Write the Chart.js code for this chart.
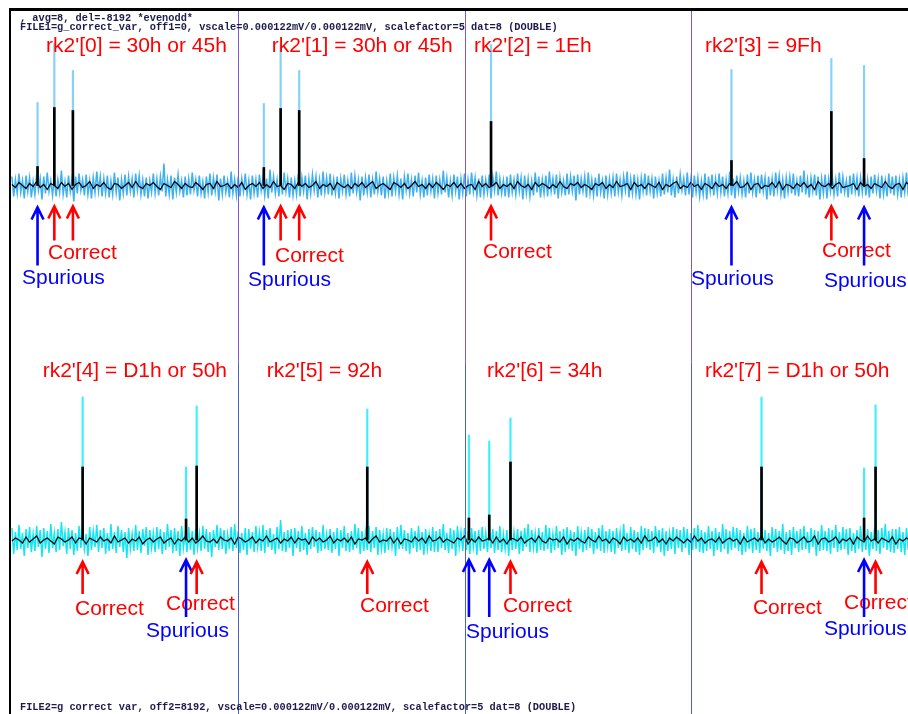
<!DOCTYPE html>
<html><head><meta charset="utf-8">
<script src="https://cdn.jsdelivr.net/npm/chart.js@4"></script>
<style>html,body{margin:0;padding:0;background:#fff;overflow:hidden}canvas{display:block}</style>
</head><body>
<canvas id="c" width="908" height="714"></canvas>
<script>
// ---- key-guess axis: 4 bytes x 256 guesses per row ----
const segmentBounds = [256, 512, 768];
const titlesTop = ["rk2'[0] = 30h or 45h", "rk2'[1] = 30h or 45h", "rk2'[2] = 1Eh", "rk2'[3] = 9Fh"];
const titlesBot = ["rk2'[4] = D1h or 50h", "rk2'[5] = 92h", "rk2'[6] = 34h", "rk2'[7] = D1h or 50h"];
const headerLines = [", avg=8, del=-8192 *evenodd*",
  "FILE1=g_correct_var, off1=0, vscale=0.000122mV/0.000122mV, scalefactor=5 dat=8 (DOUBLE)"];
const footerLine = "FILE2=g correct var, off2=8192, vscale=0.000122mV/0.000122mV, scalefactor=5 dat=8 (DOUBLE)";

// ---- peaks (key guess index, height of light trace, height of black trace) ----
const peakTopX     = [29, 48, 69, 285, 304, 325, 542, 814, 927, 964];
const peakTopCyan  = [83, 142, 115, 82, 141, 115, 141, 116, 127, 120];
const peakTopBlack = [19, 78, 75, 18, 77, 75, 64, 25, 74, 27];
const peakTopKind  = ['S','C','C','S','C','C','C','S','C','S'];
const peakBotX     = [80, 197, 209, 402, 517, 540, 564, 848, 964, 977];
const peakBotCyan  = [143, 73, 134, 131, 105, 99, 122, 143, 72, 135];
const peakBotBlack = [73, 21, 74, 73, 22, 25, 78, 73, 22, 73];
const peakBotKind  = ['C','S','C','C','S','S','C','C','S','C'];

// ---- noise traces (light trace: 1 sample / 2 guesses, black: 1 sample / 4 guesses) ----
const noiseTop = [
9,-11,6,-8,12,-7,5,-13,10,-6,8,-12,4,-9,11,-5,7,-14,9,-8,
13,-6,5,-10,8,-11,6,-7,15,-9,4,-12,10,-6,7,-16,9,-8,12,-5,
6,-10,11,-9,5,-13,8,-7,14,-6,9,-11,7,-8,10,-12,5,-9,13,-7,
8,-15,6,-8,11,-10,9,-6,7,-12,12,-5,10,-9,6,-11,8,-13,5,-7,
12,-8,7,-10,9,-6,22,-11,6,-9,10,-14,8,-7,11,-6,5,-12,9,-10,
7,-9,13,-5,6,-11,10,-8,4,-13,9,-7,12,-10,8,-6,11,-15,7,-9,
10,-7,5,-12,14,-8,6,-10,9,-11,7,-6,12,-9,5,-14,10,-8,6,-12,
11,-5,8,-10,7,-13,16,-7,9,-8,6,-11,10,-9,13,-6,7,-12,8,-10,
5,-9,12,-11,8,-6,10,-14,7,-8,11,-5,9,-12,6,-10,14,-7,8,-9,
12,-10,6,-8,9,-13,7,-6,11,-9,5,-11,13,-8,10,-7,6,-15,9,-10,
8,-7,11,-12,6,-9,14,-6,7,-10,9,-13,5,-8,12,-11,8,-6,10,-9,
7,-14,9,-5,12,-8,6,-11,10,-7,13,-9,5,-12,8,-10,11,-6,7,-13,
10,-8,6,-9,15,-7,8,-12,5,-10,11,-6,9,-14,7,-8,12,-11,6,-9,
13,-6,8,-10,7,-12,10,-9,6,-7,11,-13,9,-5,14,-10,7,-8,5,-11,
9,-12,11,-7,6,-9,12,-6,8,-14,10,-8,7,-11,5,-10,13,-7,9,-12,
6,-8,10,-11,14,-6,7,-9,11,-13,8,-7,5,-10,12,-9,9,-6,10,-15,
11,-9,7,-6,9,-12,13,-8,6,-10,8,-11,12,-7,5,-13,10,-9,7,-8,
8,-11,12,-7,6,-10,9,-5,14,-12,7,-8,11,-9,6,-14,8,-6,12,-10,
10,-6,7,-13,9,-8,5,-11,12,-9,8,-7,16,-10,6,-12,9,-8,11,-5,
7,-10,13,-9,6,-12,10,-7,8,-11,5,-9,12,-14,9,-6,11,-10,7,-8,
12,-7,9,-11,6,-8,14,-10,7,-13,10,-6,8,-9,5,-12,11,-8,13,-7,
6,-12,10,-8,11,-6,8,-14,9,-10,7,-11,13,-5,10,-9,6,-13,8,-7,
9,-8,12,-10,5,-11,10,-7,15,-9,6,-12,8,-6,11,-10,9,-14,7,-8,
11,-13,7,-6,10,-9,6,-11,13,-8,9,-7,5,-12,10,-9,12,-6,8,-11,
8,-7,14,-10,6,-12,9,-8,11,-6,7,-13,10,-9,5,-11,12,-8,9,-10,
10,-9,6,-12,8,-7,13,-11,7,-6,11,-10,9,-14,6,-8,12,-7,10,-9];
const noiseBot = [
12,-14,8,-10,15,-9,7,-16,11,-8,13,-12,6,-11,14,-7,10,-17,12,-9,
9,-13,16,-8,7,-12,11,-10,18,-6,8,-14,12,-9,10,-15,7,-11,14,-8,
11,-9,6,-16,13,-10,9,-7,15,-12,10,-8,12,-14,7,-11,16,-9,8,-13,
14,-7,10,-12,8,-18,12,-9,6,-11,15,-10,9,-13,11,-6,13,-15,10,-8,
7,-12,13,-9,11,-14,8,-10,16,-7,10,-13,12,-11,9,-16,14,-8,6,-12,
13,-10,9,-15,12,-8,7,-11,14,-9,11,-12,8,-17,10,-7,15,-10,12,-9,
10,-14,6,-9,13,-11,16,-8,9,-13,7,-10,12,-15,11,-9,8,-12,14,-7,
8,-11,15,-13,10,-7,12,-10,6,-14,13,-9,20,-11,8,-12,10,-8,11,-16,
12,-8,9,-12,14,-10,7,-15,11,-9,13,-7,10,-13,8,-11,15,-9,6,-10,
11,-13,8,-9,12,-16,10,-8,14,-11,7,-12,9,-10,16,-8,12,-14,9,-11,
7,-10,14,-12,9,-8,13,-15,10,-9,6,-13,12,-10,11,-7,8,-16,13,-9,
15,-9,10,-11,7,-14,12,-8,9,-12,14,-10,8,-15,11,-9,6,-11,13,-12,
9,-12,11,-8,16,-10,7,-13,12,-9,10,-16,14,-7,8,-11,12,-10,9,-14,
12,-7,9,-15,10,-11,13,-9,7,-12,15,-8,11,-13,9,-10,14,-12,6,-9,
10,-16,13,-10,8,-9,11,-14,9,-11,12,-7,16,-12,10,-8,7,-13,12,-10,
8,-11,15,-9,12,-13,6,-10,14,-8,9,-15,11,-12,13,-9,10,-11,8,-16,
14,-9,7,-12,10,-10,13,-8,11,-14,8,-9,12,-11,15,-13,9,-7,11,-12,
9,-14,12,-8,8,-11,16,-10,7,-13,13,-9,10,-12,8,-15,14,-10,12,-8,
11,-10,9,-13,14,-7,10,-12,12,-16,9,-11,7,-9,13,-14,11,-8,10,-12,
13,-8,11,-15,7,-10,12,-9,15,-12,10,-13,8,-11,14,-9,9,-16,12,-10,
8,-12,16,-9,11,-14,9,-10,13,-8,12,-11,10,-15,7,-12,14,-9,11,-13,
12,-10,8,-13,15,-9,10,-11,7,-16,13,-8,11,-12,9,-10,16,-14,8,-11,
10,-15,13,-8,9,-12,11,-10,14,-9,8,-13,12,-7,10,-16,9,-11,15,-10,
9,-11,12,-14,10,-8,15,-12,8,-10,13,-9,11,-15,12,-11,7,-13,10,-9,
14,-12,9,-10,11,-16,8,-9,13,-11,10,-14,12,-8,16,-10,9,-12,11,-13,
11,-9,13,-12,8,-15,12,-10,9,-11,14,-13,10,-8,12,-16,11,-9,13,-10];
const traceTop = [
1,-2,3,0,-3,2,-1,4,-2,1,-4,2,0,-3,3,-1,2,-4,1,3,
-2,0,4,-3,1,-1,3,-2,-4,2,1,-3,0,3,-2,4,-1,-3,2,0,
3,-1,-4,2,0,-2,4,1,-3,2,-1,-2,3,0,-4,1,2,-3,4,-1,
0,2,-3,1,-2,3,-4,0,2,-1,3,-3,1,-2,4,-1,0,-4,2,1,
-3,3,-1,2,-2,0,4,-3,1,-1,2,-4,3,0,-2,1,-3,2,-1,3,
-2,1,4,-3,0,2,-1,-4,3,1,-2,2,-3,0,4,-1,1,-3,2,-2,
3,0,-4,1,-1,3,-2,2,-3,0,1,-4,4,-1,2,-2,0,3,-3,1,
-1,2,-3,4,0,-2,1,-4,3,-1,2,0,-3,1,-2,4,-1,-3,2,0,
3,-2,1,-1,-4,2,0,3,-3,1,-2,4,-1,0,2,-4,3,-1,1,-3,
2,0,-2,3,-4,1,-1,2,4,-3,0,-2,3,-1,1,-4,2,0,-3,3,
-1,1,-3,2,0,4,-2,-1,3,-4,1,2,-3,0,-1,3,-2,4,-4,1,
0,-3,2,-1,3,-2,1,-4,4,0,-1,2,-3,1,3,-2,-1,0,2,-4,
3,-1,1,-3,2,0,-2,4,-1,-3,1,2,-4,3,0,-2,1,-1,3,-3];
const traceBot = [
-1,2,0,-3,3,-2,1,4,-3,0,2,-1,-4,3,1,-2,0,3,-3,2,
1,-4,2,0,-2,3,-1,1,-3,4,-2,0,2,-3,1,-1,3,-4,0,2,
-2,1,3,-3,0,2,-4,1,-1,3,-2,2,-3,0,4,-1,-2,1,-3,3,
0,-1,2,-4,3,1,-2,0,3,-3,1,-1,4,-2,0,2,-3,1,-1,3,
-3,2,0,1,-4,3,-1,2,-2,0,4,-3,1,-1,2,-2,3,-4,1,0,
2,-3,1,4,-2,0,-1,3,-3,2,-4,1,0,-2,3,-1,2,-3,4,-1,
0,3,-2,1,-1,-3,2,0,4,-4,1,-2,3,-1,0,2,-3,3,-2,1,
-4,2,1,-1,3,-3,0,2,-2,4,-1,-3,2,0,1,-2,3,-4,1,-1,
2,-1,-3,3,0,-2,4,-1,1,-3,2,0,-4,3,-1,1,-2,2,-3,4,
-1,0,3,-2,1,-4,2,-1,3,0,-3,1,-2,4,-1,2,-3,0,1,-2,
3,-3,0,2,-1,1,-4,3,-2,0,2,-1,4,-3,1,-2,0,3,-1,-4,
2,1,-3,0,3,-2,-1,4,-4,1,2,-2,0,3,-3,1,-1,2,-4,3,
0,-2,4,-1,1,-3,2,0,-2,3,-4,1,-1,2,0,-3,4,-2,1,-1];

// ---- annotation layout (key-guess x, row-unit y) ----
const layoutCfg = {
  top: {titleX:[38.6,294,522.7,784], titleY:133.5,
        correctX:[40.8,297.6,532.9,916.4], correctY:[-73.5,-76.5,-72.5,-71.5],
        spurX:[11.4,267.1,768.2,918.6], spurY:[-98.5,-100.5,-99.5,-101.5],
        arrow:{C:[-21,-55], S:[-22,-80]}},
  bot: {titleX:[34.8,288.2,537.4,784], titleY:163,
        correctX:[71.4,174.3,393.8,555.5,838.3,941.3], correctY:[-75,-70,-72,-72,-74,-69],
        spurX:[151.7,513.7,918.6], spurY:[-97,-98,-95],
        arrow:{C:[-22,-54], S:[-20,-77]}}
};

const series = (arr, step) => arr.map((y, i) => ({x: i * step, y}));
const pk = (xs, hs) => xs.map((x, i) => ({x, y: hs[i]}));

const annot = {
  id: 'annot',
  afterDatasetsDraw(chart) {
    const {ctx, chartArea: a, scales} = chart;
    const X = scales.x;
    ctx.save();
    const yT0 = scales.yTop.getPixelForValue(0), yB0 = scales.yBot.getPixelForValue(0);
    const mid = (yT0 + yB0) / 2;
    ctx.lineWidth = 1;
    segmentBounds.forEach(v => {
      const px = Math.round(X.getPixelForValue(v)) + 0.5;
      ctx.strokeStyle = '#7a5ad6';
      ctx.beginPath(); ctx.moveTo(px, a.top); ctx.lineTo(px, mid); ctx.stroke();
      ctx.strokeStyle = '#4d62c6';
      ctx.beginPath(); ctx.moveTo(px, mid); ctx.lineTo(px, a.bottom); ctx.stroke();
    });
    // frame
    ctx.fillStyle = '#000';
    ctx.fillRect(a.left - 1, a.top - 1, a.right - a.left + 1, 3);
    ctx.fillRect(a.left - 1, a.top - 1, 2, a.bottom - a.top + 1);
    // header / footer
    ctx.fillStyle = '#1c1c4c';
    ctx.font = 'bold 10.3px "Liberation Mono", monospace';
    ctx.textBaseline = 'alphabetic';
    ctx.fillText(headerLines[0], 20, 21);
    ctx.fillText(headerLines[1], 20, 30);
    ctx.fillText(footerLine, 20, 710);
    // rows
    const rows = [
      {cfg: layoutCfg.top, y: scales.yTop, titles: titlesTop, px: peakTopX, kind: peakTopKind},
      {cfg: layoutCfg.bot, y: scales.yBot, titles: titlesBot, px: peakBotX, kind: peakBotKind}];
    ctx.font = '21px "Liberation Sans", Arial, sans-serif';
    rows.forEach(r => {
      const c = r.cfg;
      ctx.fillStyle = '#f00';
      r.titles.forEach((t, i) => ctx.fillText(t, X.getPixelForValue(c.titleX[i]), r.y.getPixelForValue(c.titleY)));
      c.correctX.forEach((xv, i) => ctx.fillText('Correct', X.getPixelForValue(xv), r.y.getPixelForValue(c.correctY[i])));
      ctx.fillStyle = '#00f';
      c.spurX.forEach((xv, i) => ctx.fillText('Spurious', X.getPixelForValue(xv), r.y.getPixelForValue(c.spurY[i])));
      // arrows
      ctx.lineWidth = 2.6;
      r.px.forEach((xv, i) => {
        const k = r.kind[i];
        const [tipV, tailV] = c.arrow[k];
        const px = X.getPixelForValue(xv);
        const tip = r.y.getPixelForValue(tipV), tail = r.y.getPixelForValue(tailV);
        ctx.strokeStyle = k === 'C' ? '#f00' : '#00f';
        ctx.beginPath();
        ctx.moveTo(px, tail); ctx.lineTo(px, tip + 1);
        ctx.moveTo(px - 6, tip + 12); ctx.lineTo(px, tip); ctx.lineTo(px + 6, tip + 12);
        ctx.stroke();
      });
    });
    ctx.restore();
  }
};

new Chart(document.getElementById('c'), {
  type: 'line',
  data: {datasets: [
    {type:'bar', data: pk(peakTopX, peakTopBlack), yAxisID:'yTop', backgroundColor:'#000', barThickness:2, grouped:false, order:0},
    {type:'bar', data: pk(peakBotX, peakBotBlack), yAxisID:'yBot', backgroundColor:'#000', barThickness:2, grouped:false, order:0},
    {type:'line', data: series(traceTop, 4), yAxisID:'yTop', borderColor:'#000', borderWidth:1.2, pointRadius:0, tension:0, order:1},
    {type:'line', data: series(traceBot, 4), yAxisID:'yBot', borderColor:'#000', borderWidth:1.2, pointRadius:0, tension:0, order:1},
    {type:'bar', data: pk(peakTopX, peakTopCyan), yAxisID:'yTop', backgroundColor:'#84d2f7', barThickness:1.5, grouped:false, order:2},
    {type:'bar', data: pk(peakBotX, peakBotCyan), yAxisID:'yBot', backgroundColor:'#3cf0fc', barThickness:1.5, grouped:false, order:2},
    {type:'line', data: series(noiseTop, 2), yAxisID:'yTop', borderColor:'#3fb0f0', borderWidth:1.5, pointRadius:0, tension:0, order:3},
    {type:'line', data: series(noiseBot, 2), yAxisID:'yBot', borderColor:'#12e6f4', borderWidth:1.5, pointRadius:0, tension:0, order:3}
  ]},
  options: {
    responsive:false, animation:false, devicePixelRatio:1,
    layout:{padding:{left:10, top:9, right:0, bottom:0}},
    plugins:{legend:{display:false}, tooltip:{enabled:false}, title:{display:false}},
    scales:{
      x:{type:'linear', min:-2.15, max:1013.7, offset:false, display:false},
      yTop:{type:'linear', min:-528.5, max:176.5, display:false},
      yBot:{type:'linear', min:-174, max:531, display:false}
    }
  },
  plugins:[annot]
});
</script>
</body></html>
